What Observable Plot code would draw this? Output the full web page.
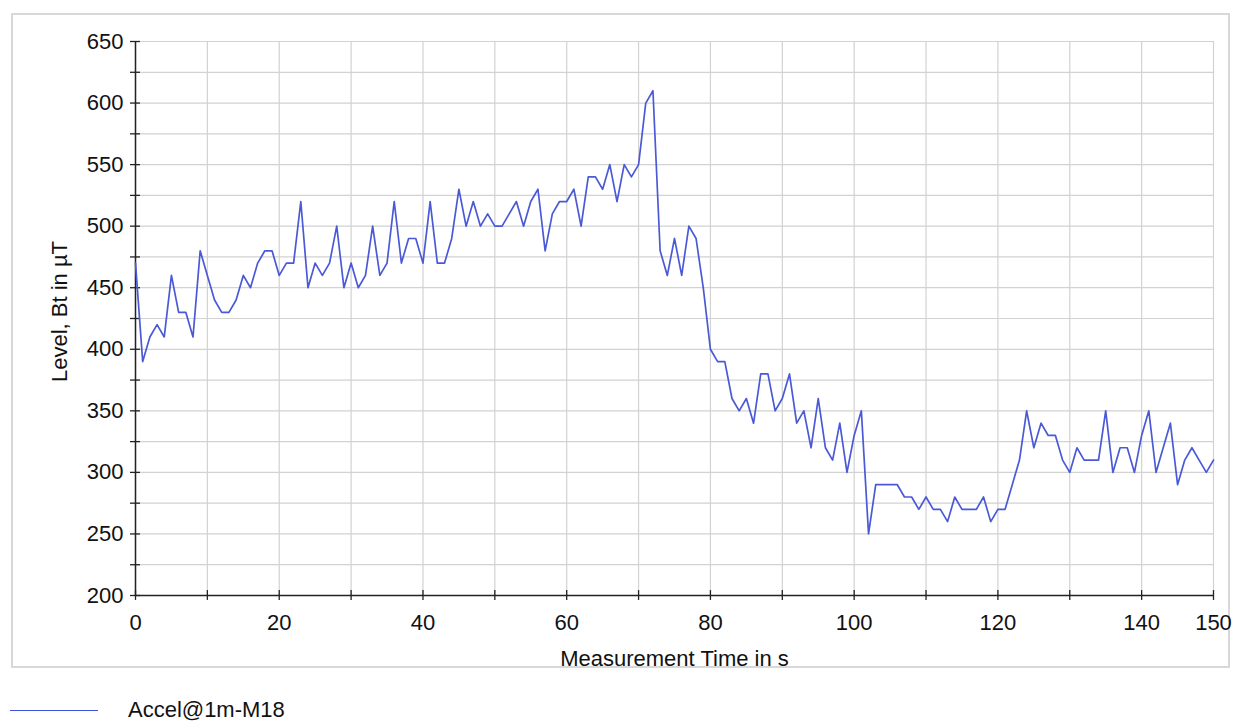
<!DOCTYPE html>
<html>
<head>
<meta charset="utf-8">
<script src="https://cdn.jsdelivr.net/npm/d3@7"></script>
<script src="https://cdn.jsdelivr.net/npm/@observablehq/plot@0.6"></script>
<style>
  html, body { margin: 0; padding: 0; background: #fff; }
  #wrap { position: relative; width: 1238px; height: 722px; font-family: "Liberation Sans", Arial, Helvetica, sans-serif; }
  #frame { position: absolute; left: 11px; top: 13px; width: 1219px; height: 655px; box-sizing: border-box; border: 2px solid #d8d8d8; }
  #chart { position: absolute; left: 0; top: 0; }
  #legend { position: absolute; left: 0; top: 694px; width: 400px; height: 28px; overflow: visible; }
</style>
</head>
<body>
<div id="wrap">
  <div id="frame"></div>
  <div id="chart"></div>
  <svg id="legend" width="400" height="28"></svg>
</div>
<script>
// Time in seconds (0..150) and level in µT
const times = d3.range(0, 151);
const levels = [
  470, 390, 410, 420, 410, 460, 430, 430, 410, 480,
  460, 440, 430, 430, 440, 460, 450, 470, 480, 480,
  460, 470, 470, 520, 450, 470, 460, 470, 500, 450,
  470, 450, 460, 500, 460, 470, 520, 470, 490, 490,
  470, 520, 470, 470, 490, 530, 500, 520, 500, 510,
  500, 500, 510, 520, 500, 520, 530, 480, 510, 520,
  520, 530, 500, 540, 540, 530, 550, 520, 550, 540,
  550, 600, 610, 480, 460, 490, 460, 500, 490, 450,
  400, 390, 390, 360, 350, 360, 340, 380, 380, 350,
  360, 380, 340, 350, 320, 360, 320, 310, 340, 300,
  330, 350, 250, 290, 290, 290, 290, 280, 280, 270,
  280, 270, 270, 260, 280, 270, 270, 270, 280, 260,
  270, 270, 290, 310, 350, 320, 340, 330, 330, 310,
  300, 320, 310, 310, 310, 350, 300, 320, 320, 300,
  330, 350, 300, 320, 340, 290, 310, 320, 310, 300,
  310
];
const xTicks = d3.range(0, 151, 10);
const xLabels = [0, 20, 40, 60, 80, 100, 120, 140, 150];
const yTicks = d3.range(200, 651, 25);
const yLabels = [200, 250, 300, 350, 400, 450, 500, 550, 600, 650];
const seriesName = "Accel@1m-M18";
const xTitle = "Measurement Time in s";
const yTitle = "Level, Bt in µT";

const lineColor = "#4a5ad6";
const gridColor = "#d2d2d2";
const fontFam = "'Liberation Sans', Arial, Helvetica, sans-serif";

const data = times.map((t, i) => ({t, v: levels[i]}));

const chart = Plot.plot({
  width: 1238,
  height: 680,
  marginLeft: 135,
  marginRight: 25,
  marginTop: 41,
  marginBottom: 85,
  x: {domain: [0, 150]},
  y: {domain: [200, 650]},
  style: {fontFamily: fontFam, fontSize: "22px", color: "#000", background: "transparent", overflow: "visible"},
  marks: [
    Plot.gridX(xTicks, {stroke: gridColor, strokeOpacity: 1, strokeWidth: 1.2}),
    Plot.gridY(yTicks, {stroke: gridColor, strokeOpacity: 1, strokeWidth: 1.2}),
    Plot.axisX(xTicks, {tickSize: 0, tickPadding: 19, tickFormat: d => xLabels.includes(d) ? String(d) : "", label: null, fill: "#111", fontSize: 22}),
    Plot.axisY(yTicks, {tickSize: 0, tickPadding: 12, tickFormat: d => yLabels.includes(d) ? String(d) : "", label: null, fill: "#111", fontSize: 22}),
    // tick marks crossing the axis lines
    Plot.ruleX(xTicks, {y1: 196, y2: 204, stroke: "#222", strokeWidth: 1.3}),
    Plot.ruleY(yTicks, {x1: -0.7, x2: 0.7, stroke: "#222", strokeWidth: 1.3}),
    Plot.ruleX([0], {stroke: "#222", strokeWidth: 1.5}),
    Plot.ruleY([200], {stroke: "#222", strokeWidth: 1.5}),
    Plot.line(data, {x: "t", y: "v", stroke: lineColor, strokeWidth: 1.7}),
    Plot.text([xTitle], {frameAnchor: "bottom", lineAnchor: "middle", textAnchor: "middle", dy: 63, text: d => d, fontSize: 22, fill: "#111"}),
    Plot.text([yTitle], {frameAnchor: "left", lineAnchor: "middle", textAnchor: "middle", dx: -76, dy: -7, rotate: -90, text: d => d, fontSize: 22, fill: "#111"})
  ]
});
document.getElementById("chart").appendChild(chart);

// Legend
const leg = d3.select("#legend");
leg.append("line").attr("x1", 10).attr("x2", 98).attr("y1", 16.5).attr("y2", 16.5)
  .attr("stroke", "#3f52e0").attr("stroke-width", 1.2);
leg.append("text").attr("x", 128).attr("y", 23).text(seriesName)
  .attr("font-size", 22).attr("fill", "#111")
  .attr("font-family", fontFam);
</script>
</body>
</html>
